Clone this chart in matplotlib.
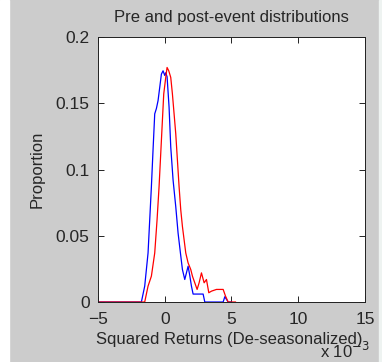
import matplotlib
matplotlib.use('Agg')
import matplotlib.pyplot as plt
from matplotlib.patches import Rectangle

# Pre-event distribution (blue), x in units of 1e-3
pre_x = [-5, -1.75, -1.5, -1.25, -1.125, -1.0, -0.875, -0.75, -0.625, -0.5,
         -0.375, -0.25, -0.125, 0.0, 0.075, 0.175, 0.325, 0.45, 0.625, 0.825,
         1.0, 1.175, 1.325, 1.5, 1.625, 1.75, 1.875, 2.0, 2.125, 2.875, 3.0,
         4.375, 4.5, 4.75, 5.0]
pre_y = [0, 0, 0.012, 0.037, 0.062, 0.087, 0.115, 0.142, 0.146, 0.152,
         0.162, 0.172, 0.1745, 0.171, 0.173, 0.170, 0.147, 0.117, 0.092, 0.072,
         0.052, 0.037, 0.0245, 0.017, 0.022, 0.027, 0.020, 0.012, 0.006, 0.006, 0,
         0, 0.004, 0, 0]

# Post-event distribution (red)
post_x = [-5, -1.5, -1.25, -1.0, -0.75, -0.575, -0.425, -0.3, -0.175, -0.075,
          0.075, 0.175, 0.3, 0.45, 0.575, 0.7, 0.825, 0.95, 1.075, 1.2, 1.325,
          1.45, 1.575, 1.75, 1.95, 2.075, 2.25, 2.425, 2.575, 2.75, 2.95, 3.125,
          3.3, 3.5, 3.875, 4.375, 4.55, 4.75, 5.3]
post_y = [0, 0, 0.012, 0.0195, 0.037, 0.062, 0.087, 0.112, 0.137, 0.157,
          0.1695, 0.177, 0.1745, 0.1695, 0.157, 0.142, 0.127, 0.107, 0.087, 0.0695,
          0.057, 0.047, 0.037, 0.0295, 0.0245, 0.0195, 0.0145, 0.0095, 0.0145,
          0.022, 0.0145, 0.017, 0.007, 0.0082, 0.0095, 0.0095, 0.0045, 0, 0]

x_ticks = [-5, 0, 5, 10, 15]
y_ticks = [0, 0.05, 0.1, 0.15, 0.2]
y_tick_labels = ['0', '0.05', '0.1', '0.15', '0.2']

plt.rcParams['font.family'] = ['Liberation Sans', 'DejaVu Sans']
txt_color = '#262626'

fig = plt.figure(figsize=(3.82, 3.62), dpi=100, facecolor=(0.8, 0.8, 0.8))

# white strips at the image edges, as in the screenshot
fig.patches.append(Rectangle((0, 0), 9 / 382, 1, transform=fig.transFigure,
                             color='white', zorder=-1))
fig.patches.append(Rectangle((379 / 382, 0), 3 / 382, 1, transform=fig.transFigure,
                             color='#eef3f1', zorder=-1))

ax = fig.add_axes([0.2565, 0.1657, 0.699, 0.7321])

ax.plot(pre_x, pre_y, color='blue', linewidth=0.9)
ax.plot(post_x, post_y, color='red', linewidth=0.9)

ax.set_xlim(-5, 15)
ax.set_ylim(0, 0.2)
ax.set_xticks(x_ticks)
ax.set_yticks(y_ticks)
ax.set_yticklabels(y_tick_labels)
ax.tick_params(direction='in', length=4, width=0.6, top=True, right=True,
               labelsize=12.5, labelcolor=txt_color)
ax.tick_params(axis='x', pad=7)
ax.tick_params(axis='y', pad=6)
for s in ax.spines.values():
    s.set_linewidth(0.7)
    s.set_color('#202020')

ax.set_title('Pre and post-event distributions', fontsize=12, pad=11,
             color=txt_color)
ax.set_xlabel('Squared Returns (De-seasonalized)', fontsize=12, color=txt_color)
ax.xaxis.set_label_coords(0.49, -0.112)
ax.set_ylabel('Proportion', fontsize=12, color=txt_color)
ax.yaxis.set_label_coords(-0.2, 0.5)
fig.text(0.838, 0.012, r'x 10$^{-3}$', fontsize=12, color=txt_color)

fig.savefig('out.png', dpi=100, facecolor=fig.get_facecolor())
